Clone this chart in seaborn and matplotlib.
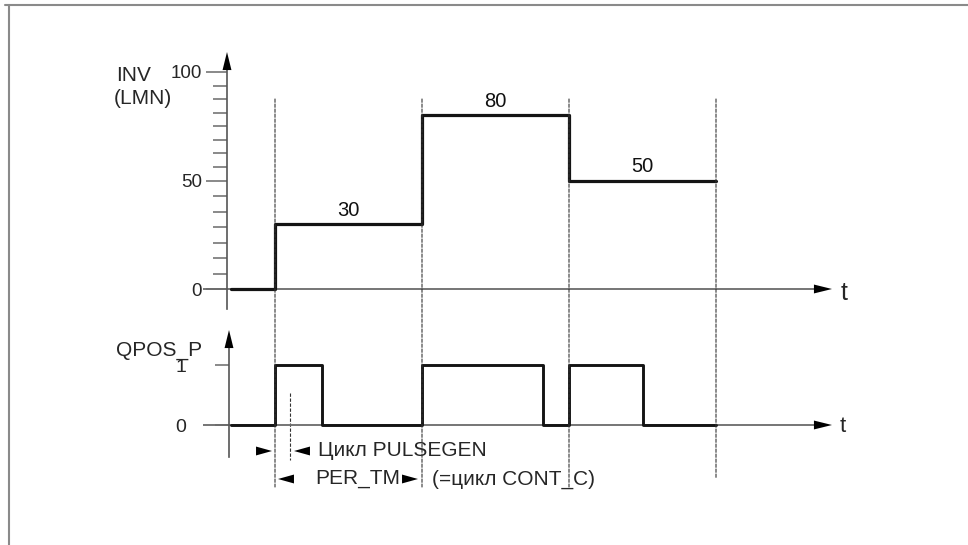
import matplotlib
matplotlib.use("Agg")
import matplotlib.pyplot as plt
import seaborn as sns
import pandas as pd
from matplotlib.patches import ConnectionPatch
from matplotlib.lines import Line2D

# ---------------- data ----------------
inv_t = [0.7, 1.0, 2.0, 3.0, 4.0]          # time in CONT_C cycles
inv_v = [0, 30, 80, 50, 50]                # INV (LMN) value
qpos_t = [0.7, 1.0, 1.32, 2.0, 2.82, 3.0, 3.5, 4.0]
qpos_v = [0, 1, 0, 1, 0, 1, 0, 0]          # QPOS_P pulse output
cycle_t = [1.0, 2.0, 3.0, 4.0]             # CONT_C cycle boundaries
inv_ticks = [0, 50, 100]
inv_tick_labels = ["0", "50", "100"]
qpos_ticks = [0, 1]
qpos_tick_labels = ["0", "1"]
pulsegen_t = 1.1                           # one PULSEGEN cycle after t=1

sns.set_theme(style="white")
plt.rcParams["font.family"] = ["Liberation Sans", "DejaVu Sans"]

W, H = 968, 545
fig = plt.figure(figsize=(W / 100, H / 100), dpi=100)

# layout helpers (pixel -> data)
X0, XS = 275, 147
def tx(px):
    return 1 + (px - X0) / XS

SPLIT = 322
Y1_0, Y1_S = 289, 2.17
Y2_0, Y2_S = 425, 60
def ty1(py):
    return (Y1_0 - py) / Y1_S
def ty2(py):
    return (Y2_0 - py) / Y2_S

ax1 = fig.add_axes([0, 1 - SPLIT / H, 1, SPLIT / H])
ax2 = fig.add_axes([0, 0, 1, 1 - SPLIT / H])
for ax in (ax1, ax2):
    ax.set_xlim(tx(0), tx(W))
    ax.patch.set_alpha(0)
    ax.set_xticks([])
    for s in ("top", "right", "bottom"):
        ax.spines[s].set_visible(False)
ax1.set_ylim(ty1(SPLIT), ty1(0))
ax2.set_ylim(ty2(H), ty2(SPLIT))

LINE = "#141414"
AXC = "#6a6a6a"
FS_TXT = 15

# ---------------- step curves ----------------
df1 = pd.DataFrame({"t": inv_t, "v": inv_v})
df2 = pd.DataFrame({"t": qpos_t, "v": qpos_v})
sns.lineplot(data=df1, x="t", y="v", ax=ax1, drawstyle="steps-post",
             color=LINE, linewidth=2.3, estimator=None, zorder=5)
sns.lineplot(data=df2, x="t", y="v", ax=ax2, drawstyle="steps-post",
             color=LINE, linewidth=2.1, estimator=None, zorder=5)
for ax in (ax1, ax2):
    ax.set_xlabel("")
    ax.set_ylabel("")

# value labels on INV plateaus
for i in range(1, len(inv_t) - 1):
    mid = (inv_t[i] + inv_t[i + 1]) / 2
    ax1.annotate(str(inv_v[i]), xy=(mid, inv_v[i]), xytext=(0, 3),
                 textcoords="offset points", ha="center", va="bottom",
                 fontsize=14.5, color="#111")

# ---------------- y axes (spines + ticks) ----------------
ax1.spines["left"].set_position(("data", tx(227)))
ax1.spines["left"].set_bounds(ty1(309), ty1(60))
ax1.spines["left"].set_color("#555")
ax1.spines["left"].set_linewidth(1.2)
ax1.set_yticks(inv_ticks, inv_tick_labels)
minor = [50 * i / 7 for i in range(1, 7)] + [50 + 50 * i / 8 for i in range(1, 8)]
ax1.set_yticks(minor, minor=True)
ax1.tick_params(axis="y", which="major", left=True, direction="out",
                length=15, width=1.1, color=AXC, pad=3, labelsize=13.5)
ax1.tick_params(axis="y", which="minor", left=True, direction="out",
                length=10, width=1.1, color=AXC)

ax2.spines["left"].set_position(("data", tx(229)))
ax2.spines["left"].set_bounds(ty2(457), ty2(338))
ax2.spines["left"].set_color("#555")
ax2.spines["left"].set_linewidth(1.2)
ax2.set_yticks(qpos_ticks, qpos_tick_labels)
ax2.tick_params(axis="y", which="major", left=True, direction="out",
                length=10, width=1.1, color=AXC, pad=21, labelsize=14)

# arrow heads
def head(ax, tail, tip, hl=1.3, hw=0.32, color="black", ms=10):
    ax.annotate("", xy=tip, xytext=tail,
                arrowprops=dict(arrowstyle=f"-|>,head_length={hl},head_width={hw}",
                                color=color, lw=0, shrinkA=0, shrinkB=0,
                                mutation_scale=ms),
                annotation_clip=False)

# top axes: y arrow & t axis
head(ax1, (tx(227), ty1(73)), (tx(227), ty1(52)))
ax1.plot([tx(203), tx(815)], [0, 0], color=AXC, lw=1.3, zorder=2,
         solid_capstyle="butt")
head(ax1, (tx(812), 0), (tx(832), 0))
ax1.text(tx(841), ty1(293), "t", ha="left", va="center", fontsize=18)

# bottom axes
head(ax2, (tx(229), ty2(351)), (tx(229), ty2(330)))
ax2.plot([tx(203), tx(815)], [0, 0], color=AXC, lw=1.3, zorder=2,
         solid_capstyle="butt")
head(ax2, (tx(812), 0), (tx(832), 0))
ax2.text(tx(840), ty2(426), "t", ha="left", va="center", fontsize=16)

# axis titles
fig.text(116 / W, 1 - 75 / H, "INV", ha="left", va="center", fontsize=FS_TXT)
fig.text(114 / W, 1 - 98 / H, "(LMN)", ha="left", va="center", fontsize=FS_TXT)
fig.text(202 / W, 1 - 350 / H, "QPOS_P", ha="right", va="center", fontsize=FS_TXT)

# ---------------- dashed cycle markers ----------------
ends = [487, 487, 487, 478]
for t, e in zip(cycle_t, ends):
    cp = ConnectionPatch(xyA=(t, ty1(99)), coordsA=ax1.transData,
                         xyB=(t, ty2(e)), coordsB=ax2.transData,
                         linestyle=(0, (3, 1.5)), lw=0.8, color="#333", zorder=1)
    fig.add_artist(cp)
ax2.plot([pulsegen_t, pulsegen_t], [ty2(393), ty2(460)], color="#333",
         lw=0.8, linestyle=(0, (3, 1.5)), zorder=1)

# ---------------- cycle annotations ----------------
r1 = ty2(451)
r2 = ty2(479)
head(ax2, (tx(256), r1), (tx(272), r1), hl=1.15, hw=0.32)
head(ax2, (tx(310), r1), (tx(294), r1), hl=1.15, hw=0.32)
ax2.text(tx(318), r1, "Цикл PULSEGEN", ha="left", va="center", fontsize=FS_TXT)

head(ax2, (tx(294), r2), (tx(278), r2), hl=1.15, hw=0.32)
ax2.text(tx(315), r2, "PER_TM", ha="left", va="center", fontsize=FS_TXT)
head(ax2, (tx(402), r2), (tx(418), r2), hl=1.15, hw=0.32)
ax2.text(tx(432), r2, "(=цикл CONT_C)", ha="left", va="center", fontsize=FS_TXT)

# ---------------- outer frame ----------------
fig.add_artist(Line2D([5 / W, 1], [1 - 5 / H, 1 - 5 / H], transform=fig.transFigure,
                      color="#8a8a8a", lw=1.5))
fig.add_artist(Line2D([9 / W, 9 / W], [1 - 5 / H, 0], transform=fig.transFigure,
                      color="#8a8a8a", lw=1.5))

fig.savefig("out.png", dpi=100)
